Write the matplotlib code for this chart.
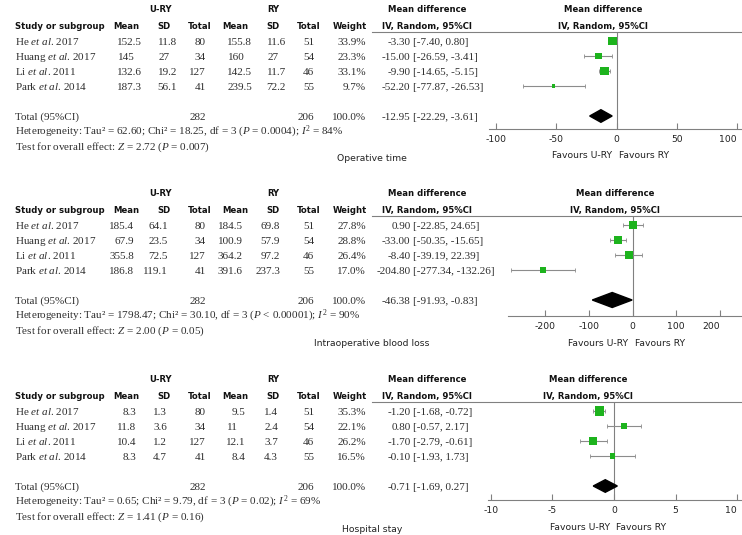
import matplotlib
matplotlib.use("Agg")
import matplotlib.pyplot as plt
from matplotlib.transforms import blended_transform_factory, offset_copy
from matplotlib.lines import Line2D

plt.rcParams.update({
    "mathtext.fontset": "custom",
    "mathtext.rm": "Liberation Serif",
    "mathtext.it": "Liberation Serif:italic",
    "mathtext.bf": "Liberation Serif:bold",
    "axes.unicode_minus": False,
})

# ---------------- data ----------------
study_names = ["He", "Huang", "Li", "Park"]
study_years = ["2017", "2017", "2011", "2014"]
n_ury = [80, 34, 127, 41]
n_ry = [51, 54, 46, 55]
total_ury = 282
total_ry = 206
outcome_titles = ["Operative time", "Intraoperative blood loss", "Hospital stay"]

# Operative time
op_mean_ury = [152.5, 145, 132.6, 187.3]
op_sd_ury = [11.8, 27, 19.2, 56.1]
op_mean_ry = [155.8, 160, 142.5, 239.5]
op_sd_ry = [11.6, 27, 11.7, 72.2]
op_weight = [33.9, 23.3, 33.1, 9.7]
op_md = [-3.30, -15.00, -9.90, -52.20]
op_lo = [-7.40, -26.59, -14.65, -77.87]
op_hi = [0.80, -3.41, -5.15, -26.53]
op_total = [-12.95, -22.29, -3.61]

# Intraoperative blood loss
bl_mean_ury = [185.4, 67.9, 355.8, 186.8]
bl_sd_ury = [64.1, 23.5, 72.5, 119.1]
bl_mean_ry = [184.5, 100.9, 364.2, 391.6]
bl_sd_ry = [69.8, 57.9, 97.2, 237.3]
bl_weight = [27.8, 28.8, 26.4, 17.0]
bl_md = [0.90, -33.00, -8.40, -204.80]
bl_lo = [-22.85, -50.35, -39.19, -277.34]
bl_hi = [24.65, -15.65, 22.39, -132.26]
bl_total = [-46.38, -91.93, -0.83]

# Hospital stay
hs_mean_ury = [8.3, 11.8, 10.4, 8.3]
hs_sd_ury = [1.3, 3.6, 1.2, 4.7]
hs_mean_ry = [9.5, 11, 12.1, 8.4]
hs_sd_ry = [1.4, 2.4, 3.7, 4.3]
hs_weight = [35.3, 22.1, 26.2, 16.5]
hs_md = [-1.20, 0.80, -1.70, -0.10]
hs_lo = [-1.68, -0.57, -2.79, -1.93]
hs_hi = [-0.72, 2.17, -0.61, 1.73]
hs_total = [-0.71, -1.69, 0.27]

het_tau2 = [62.60, 1798.47, 0.65]
het_chi2 = [18.25, 30.10, 9.79]
het_df = [3, 3, 3]
het_p = ["= 0.0004", "< 0.00001", "= 0.02"]
het_i2 = [84, 90, 69]
eff_z = [2.72, 2.00, 1.41]
eff_p = ["= 0.007", "= 0.05", "= 0.16"]

axis_ticks = [[-100, -50, 0, 50, 100], [-200, -100, 0, 100, 200], [-10, -5, 0, 5, 10]]

panels = [
    (op_mean_ury, op_sd_ury, op_mean_ry, op_sd_ry, op_weight, op_md, op_lo, op_hi, op_total),
    (bl_mean_ury, bl_sd_ury, bl_mean_ry, bl_sd_ry, bl_weight, bl_md, bl_lo, bl_hi, bl_total),
    (hs_mean_ury, hs_sd_ury, hs_mean_ry, hs_sd_ry, hs_weight, hs_md, hs_lo, hs_hi, hs_total),
]

# ---------------- layout (pixels) ----------------
W, H = 742, 535
fig = plt.figure(figsize=(W / 100, H / 100), dpi=100)

ROW = 15.0
BASE_OFF = 3.6 / ROW  # baseline sits below row centre
first_row_px = [41, 225, 411]
header_line_px = [32, 216, 402]
baseline_px = [129, 316, 500]
title_px = [157, 342, 528]
axis_left_px = [489, 508, 488]
xlims = [(-105.8, 104.1), (-284.6, 250.3), (-10.24, 10.4)]
md_header2_x = [603, 615, 588]
diamond_half = [0.42, 0.5, 0.42]
# right edges of the decimal columns (mean U-RY, SD U-RY, mean RY, SD RY) per panel
num_col_px = [[142, 177, 252, 286], [134, 168, 243, 280], [136, 167, 245, 278]]

SERIF = "Liberation Serif"
SANS = "DejaVu Sans"
FS_SERIF = 8.0
FS_BOLD = 6.1
FS_SANS = 6.7
TXT = "#2e2e2e"
GREEN = "#1db31d"
GREY = "#808080"

col_x = {"name": 15, "n_u": 206, "n_r": 314, "w": 366}
hdr_x = {"mean_u": 126, "sd_u": 164, "n_u": 199.5, "mean_r": 235,
         "sd_r": 273, "n_r": 309, "w": 350}
FRAC_W = 7.0  # width of ".d"
CI_X = 413
MD_HDR1_X = 427


def fx(px):
    return px / W


for p, data in enumerate(panels):
    mean_u, sd_u, mean_r, sd_r, weight, md, lo, hi, tot = data
    r0 = first_row_px[p]
    top = (header_line_px[p] - r0) / ROW
    bot = (baseline_px[p] - r0) / ROW
    ax = fig.add_axes([fx(axis_left_px[p]), 1 - baseline_px[p] / H,
                       1 - fx(axis_left_px[p]), (baseline_px[p] - header_line_px[p]) / H])
    ax.set_xlim(*xlims[p])
    ax.set_ylim(bot, top)
    ax.set_facecolor("none")
    for s in ("top", "left", "right"):
        ax.spines[s].set_visible(False)
    ax.spines["bottom"].set_color(GREY)
    ax.spines["bottom"].set_linewidth(0.8)
    ax.set_yticks([])
    ax.set_xticks(axis_ticks[p])
    labels = ax.set_xticklabels([str(t) for t in axis_ticks[p]], family=SANS)
    labels[-1].set_horizontalalignment("right")
    ax.tick_params(axis="x", direction="in", length=4, width=0.8, color=GREY,
                   labelsize=FS_SANS, pad=4, labelcolor="#222222")
    ax.axvline(0, color=GREY, lw=0.8, zorder=1)

    rows = list(range(len(study_names)))
    xerr = [[m - l for m, l in zip(md, lo)], [h - m for m, h in zip(md, hi)]]
    ax.errorbar(md, rows, xerr=xerr, fmt="none", ecolor="#8c8c8c",
                elinewidth=0.8, capsize=1.5, capthick=0.6, zorder=2)
    sizes = [((9.0 * (w / 34.0) ** 0.75) * 0.72) ** 2 for w in weight]
    ax.scatter(md, rows, s=sizes, marker="s", color=GREEN, edgecolors="none", zorder=3)

    total_row = len(study_names) + 1
    est, tlo, thi = tot
    dh = diamond_half[p]
    ax.fill([tlo, est, thi, est],
            [total_row, total_row - dh, total_row, total_row + dh],
            color="black", zorder=3, clip_on=False)

    tr = blended_transform_factory(fig.transFigure, ax.transData)

    def put(xpx, row, s, ha="left", **kw):
        kw.setdefault("family", SERIF)
        kw.setdefault("fontsize", FS_SERIF)
        kw.setdefault("color", TXT)
        fig.text(fx(xpx), row + BASE_OFF, s, ha=ha, va="baseline", transform=tr, **kw)

    def put_num(xr, row, v):
        s = f"{v:g}"
        if "." in s:
            put(xr, row, s, ha="right")
        else:
            put(xr - FRAC_W, row, s, ha="right")

    # headers
    hrow1 = (first_row_px[p] - 33 - r0) / ROW
    hrow2 = (first_row_px[p] - 16 - r0) / ROW
    bold = dict(family=SANS, fontsize=FS_BOLD, weight="bold", color="#111111")
    put(161, hrow1, "U-RY", ha="center", **bold)
    put(273, hrow1, "RY", ha="center", **bold)
    put(MD_HDR1_X, hrow1, "Mean difference", ha="center", **bold)
    put(md_header2_x[p], hrow1, "Mean difference", ha="center", **bold)
    put(col_x["name"], hrow2, "Study or subgroup", ha="left", **bold)
    for key, lab in [("mean_u", "Mean"), ("sd_u", "SD"), ("n_u", "Total"),
                     ("mean_r", "Mean"), ("sd_r", "SD"), ("n_r", "Total"),
                     ("w", "Weight")]:
        put(hdr_x[key], hrow2, lab, ha="center", **bold)
    put(MD_HDR1_X, hrow2, "IV, Random, 95%CI", ha="center", **bold)
    put(md_header2_x[p], hrow2, "IV, Random, 95%CI", ha="center", **bold)

    fig.add_artist(Line2D([fx(372), 1.0], [1 - header_line_px[p] / H] * 2,
                          transform=fig.transFigure, color=GREY, lw=0.8))

    # study rows
    cmu, csu, cmr, csr = num_col_px[p]
    for i in rows:
        put(col_x["name"], i, study_names[i] + r" $et\ al$. " + study_years[i])
        put_num(cmu, i, mean_u[i])
        put_num(csu, i, sd_u[i])
        put(col_x["n_u"], i, str(n_ury[i]), ha="right")
        put_num(cmr, i, mean_r[i])
        put_num(csr, i, sd_r[i])
        put(col_x["n_r"], i, str(n_ry[i]), ha="right")
        put(col_x["w"], i, f"{weight[i]:.1f}%", ha="right")
        put(CI_X - 2.5, i, f"{md[i]:.2f}", ha="right")
        put(CI_X, i, f"[{lo[i]:.2f}, {hi[i]:.2f}]", ha="left")

    # total
    put(col_x["name"], total_row, "Total (95%CI)")
    put(col_x["n_u"], total_row, str(total_ury), ha="right")
    put(col_x["n_r"], total_row, str(total_ry), ha="right")
    put(col_x["w"], total_row, "100.0%", ha="right")
    put(CI_X - 2.5, total_row, f"{est:.2f}", ha="right")
    put(CI_X, total_row, f"[{tlo:.2f}, {thi:.2f}]", ha="left")
    put(col_x["name"], total_row + 1,
        f"Heterogeneity: Tau² = {het_tau2[p]:.2f}; Chi² = {het_chi2[p]:.2f}, "
        f"df = {het_df[p]} ($P$ {het_p[p]}); $I^2$ = {het_i2[p]}%")
    put(col_x["name"], total_row + 2,
        f"Test for overall effect: $Z$ = {eff_z[p]:.2f} ($P$ {eff_p[p]})")

    # outcome title and favours labels
    trow = (title_px[p] - r0) / ROW
    put(372, trow, outcome_titles[p], ha="center", family=SANS, fontsize=FS_SANS, color="#222222")
    frow = (baseline_px[p] + 27 - r0) / ROW
    ax.text(0, frow, "Favours U-RY", ha="right", va="center", family=SANS,
            fontsize=FS_SANS, color="#222222", clip_on=False,
            transform=offset_copy(ax.transData, fig=fig, x=-4, y=0, units="dots"))
    ax.text(0, frow, "Favours RY", ha="left", va="center", family=SANS,
            fontsize=FS_SANS, color="#222222", clip_on=False,
            transform=offset_copy(ax.transData, fig=fig, x=2, y=0, units="dots"))

fig.savefig("out.png", dpi=100)
